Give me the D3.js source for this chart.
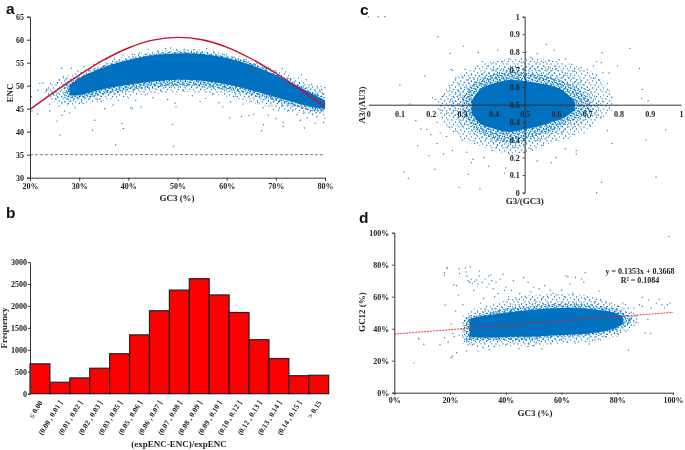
<!DOCTYPE html>
<html><head><meta charset="utf-8">
<script src="https://cdnjs.cloudflare.com/ajax/libs/d3/7.8.5/d3.min.js"></script>
<style>
html,body{margin:0;padding:0;background:#fff}
svg{filter:blur(0.35px)}
text{font-family:"Liberation Serif",serif;font-weight:bold;fill:#222}
.letter{font-family:"Liberation Sans",sans-serif;font-size:15.5px;fill:#111}
</style></head><body><svg id="c" width="685" height="450"></svg>
<script>
// ---------- panel a
const aTicksX=[20,30,40,50,60,70,80];
const aTicksY=[30,35,40,45,50,55,60,65];
const aCurveX=[20,25,30,35,40,45,50,55,60,65,70,75,80];
const aCurveY=[44.85,48.65,52.3,55.6,58.2,59.9,60.5,59.98,58.4,55.86,52.7,49.15,45.45];
const aRefLine=35;
const aFringeX=[23,26,30,35,40,45,50,55,60,65,70,75,78,80];
const aFringeTop=[49,51.5,53,55,56.6,57.4,57.9,57.8,57,55.6,53.6,51.2,50,49];
const aFringeBot=[48,46,45.8,46.8,47.6,48.2,48.6,48.4,47.6,46.4,45,44,43.5,43.6];
const aOuterX=[25,27,30,35,40,45,50,55,60,65,70,75,78,80];
const aOuterTop=[48.8,51,52.4,54.6,56.1,57.1,57.6,57.5,56.6,55.1,53,50.5,49,47.8];
const aOuterBot=[47.8,46.6,46.8,47.7,48.6,49.3,49.6,49.4,48.6,47.5,46,44.9,44,44.2];
const aMidX=[27,30,35,40,45,50,55,60,65,70,75,78,80];
const aMidTop=[50.6,51.9,54.3,55.8,56.9,57.3,57.2,56.3,54.9,52.7,50,48.4,47.3];
const aMidBot=[47.2,47.2,48.1,49,49.6,50,49.8,49.1,48,46.6,45.2,44.5,44.6];
const aCoreX=[28,30,35,40,45,50,55,60,65,70,75,78,80];
const aCoreTop=[50,51.6,54,55.6,56.6,57,56.9,56,54.5,52.3,49.6,47.9,46.8];
const aCoreBot=[47.9,48,49.3,50.2,50.9,51.3,51.1,50.3,49,47.5,46,45.2,45];
const aPoints=[[37.4,37.1],[49.2,36.8],[49,41.6],[39,40.7],[38.7,41.8],[32.7,40.3],[33.2,42.5],[26.1,39.3],[25.5,42.3],[67.1,40.2],[67.5,41.5],[71.5,41.2],[71.5,42],[75.8,40.8],[60.6,43],[78,41.8],[79.7,42],[80,43],[70,42.8],[68.5,43.6],[63,43.3],[64.5,43.5],[65.5,43.8],[75,42.5],[42.6,45.4],[40.8,45],[40.5,45.2],[49.7,45.4],[20.4,44.5],[21.5,43.9],[24,44.5],[28,44.1],[27,44.5],[26.5,43.6],[24,46],[20.3,47.6],[21.6,49],[22,50.5],[22.6,50.6],[23.4,48.9],[23.7,49.4],[24.2,50.5],[24.8,48.2],[25.2,47.1],[25.6,50.6],[26,51.3],[26.4,53.8],[28.4,53.8],[26.8,52],[27.3,51.4],[27.7,46],[26.5,46.4],[25.9,45.6],[28.1,46.6],[29.2,45.2],[29.8,53.2],[30.4,52.8],[31,54.2],[31.9,53.4],[33,54.6],[34,55.2],[35.6,55.8],[37.2,56],[38.9,56.7],[40.8,56.8],[42.3,57.1],[44,57.9],[46,57.5],[47.6,58.1],[48.6,58.2],[49.8,57.9],[51.5,57.9],[53.3,57.8],[55.9,58.1],[57.5,57.1],[59.5,56.7],[61.5,56.2],[63.5,55.7],[66,54.8],[68,53.9],[69.7,53.3],[71.3,53.7],[72,53],[73,51.5],[74.6,51.7],[75.2,52.4],[76.2,51.3],[77.3,50.3],[78.4,49.9],[79.2,49.8],[80,49.6],[79.5,48.3],[78.9,49],[30.6,46.3],[32,47],[33.7,47],[34.5,46.6],[35.2,45],[36.9,45.8],[38,46.8],[40,47.3],[41.5,46.8],[43.5,48],[45,47.4],[46.6,48.9],[48,47],[49.5,46.2],[51.2,49],[53,47.8],[54.6,46.6],[55.7,47.2],[57.1,48.2],[58.4,46.3],[59.2,45.4],[60.8,46.5],[61.9,47.7],[63.3,46],[64.7,46.6],[66.3,46.3],[67.4,45.2],[68.6,45.6],[69.5,44.8],[70.6,44.6],[71.2,45.6],[72.4,44.5],[73.5,44.9],[74.3,43.7],[75.6,44],[76.4,43],[77.4,43.9],[78.3,43.2],[79.2,44.4],[79.8,44.9],[80,46]];
// ---------- panel b
const bLabels=["≤ 0.00","(0.00 , 0.01 ]","(0.01 , 0.02 ]","(0.02 , 0.03 ]","(0.03 , 0.05 ]","(0.05 , 0.06 ]","(0.06 , 0.07 ]","(0.07 , 0.08 ]","(0.08 , 0.09 ]","(0.09 , 0.10 ]","(0.10 , 0.12 ]","(0.12 , 0.13 ]","(0.13 , 0.14 ]","(0.14 , 0.15 ]","> 0.15"];
const bValues=[680,260,360,580,910,1340,1890,2360,2620,2250,1850,1230,800,410,420];
const bTicksY=[0,500,1000,1500,2000,2500,3000];
// ---------- panel c
const cTicks=[0,0.1,0.2,0.3,0.4,0.5,0.6,0.7,0.8,0.9,1];
const cFringeX=[0.22,0.26,0.3,0.35,0.4,0.45,0.5,0.55,0.6,0.65,0.7,0.74,0.78];
const cFringeTop=[0.52,0.62,0.68,0.72,0.75,0.76,0.77,0.76,0.75,0.73,0.7,0.66,0.54];
const cFringeBot=[0.46,0.36,0.3,0.27,0.24,0.22,0.22,0.26,0.29,0.32,0.36,0.41,0.47];
const cOuterX=[0.26,0.3,0.35,0.4,0.45,0.5,0.55,0.6,0.65,0.7,0.74];
const cOuterTop=[0.53,0.62,0.67,0.7,0.72,0.72,0.72,0.71,0.67,0.6,0.52];
const cOuterBot=[0.46,0.38,0.32,0.28,0.25,0.27,0.3,0.33,0.36,0.41,0.47];
const cMidX=[0.3,0.33,0.37,0.41,0.46,0.5,0.55,0.6,0.64,0.68,0.71];
const cMidTop=[0.55,0.61,0.65,0.68,0.69,0.68,0.67,0.65,0.62,0.58,0.52];
const cMidBot=[0.45,0.38,0.33,0.3,0.28,0.3,0.33,0.36,0.4,0.43,0.47];
const cCoreX=[0.33,0.36,0.4,0.45,0.5,0.55,0.6,0.63,0.66];
const cCoreTop=[0.52,0.59,0.62,0.64,0.635,0.62,0.6,0.57,0.52];
const cCoreBot=[0.45,0.39,0.365,0.345,0.36,0.38,0.41,0.43,0.47];
const cPoints=[[0,1],[0.032,1],[0.053,1],[0.222,0.886],[0.304,0.833],[0.261,0.792],[0.352,0.797],[0.414,0.81],[0.57,0.843],[0.595,0.81],[0.837,0.82],[0.748,0.795],[0.101,0.612],[0.181,0.663],[0.797,0.72],[0.867,0.706],[0.877,0.587],[0.874,0.536],[0.895,0.523],[0.133,0.504],[0.152,0.41],[0.168,0.362],[0.187,0.36],[0.158,0.267],[0.194,0.21],[0.115,0.117],[0.128,0.081],[0.213,0.133],[0.29,0.03],[0.357,0.023],[0.73,0],[0.746,0.059],[0.92,0.089],[0.888,0.3],[0.951,0.356],[0.78,0.28],[0.765,0.352],[0.215,0.53],[0.205,0.54],[0.24,0.55],[0.26,0.58],[0.265,0.7],[0.27,0.695],[0.29,0.62],[0.3,0.66],[0.31,0.7],[0.33,0.67],[0.35,0.72],[0.365,0.745],[0.38,0.72],[0.4,0.74],[0.43,0.745],[0.45,0.76],[0.47,0.72],[0.49,0.74],[0.505,0.8],[0.52,0.77],[0.54,0.79],[0.56,0.74],[0.58,0.75],[0.61,0.755],[0.63,0.76],[0.65,0.73],[0.68,0.71],[0.7,0.7],[0.72,0.72],[0.73,0.745],[0.745,0.74],[0.75,0.68],[0.77,0.68],[0.765,0.62],[0.74,0.64],[0.72,0.65],[0.77,0.58],[0.78,0.54],[0.75,0.52],[0.735,0.5],[0.71,0.47],[0.73,0.44],[0.745,0.43],[0.71,0.38],[0.69,0.34],[0.66,0.33],[0.64,0.31],[0.63,0.25],[0.665,0.24],[0.665,0.22],[0.6,0.2],[0.585,0.17],[0.56,0.27],[0.54,0.18],[0.52,0.25],[0.5,0.23],[0.48,0.2],[0.45,0.22],[0.44,0.14],[0.435,0.11],[0.385,0.15],[0.37,0.2],[0.335,0.19],[0.33,0.17],[0.315,0.23],[0.32,0.105],[0.34,0.28],[0.3,0.3],[0.27,0.24],[0.24,0.22],[0.22,0.28],[0.23,0.34],[0.25,0.32],[0.2,0.33],[0.22,0.4],[0.26,0.37],[0.28,0.35],[0.3,0.38],[0.29,0.43],[0.25,0.45],[0.23,0.47],[0.27,0.52],[0.26,0.61],[0.28,0.65],[0.32,0.64],[0.345,0.33],[0.36,0.29],[0.395,0.24],[0.41,0.26],[0.47,0.26],[0.55,0.3],[0.6,0.3],[0.62,0.34],[0.68,0.4],[0.7,0.58],[0.68,0.64],[0.66,0.69],[0.6,0.72],[0.54,0.74],[0.4,0.7],[0.34,0.63]];
// ---------- panel d
const dTicks=[0,20,40,60,80,100];
const dTrendX=[0,100];
const dTrendY=[36.68,50.21];
const dEquation="y = 0.1353x + 0.3668";
const dRSquared="R² = 0.1084";
const dFringeX=[24,28,32,38,44,50,56,62,68,74,80,84,88];
const dFringeTop=[47,52,54,57,60,61,62,62,61,59,55,52,47];
const dFringeBot=[31,29,28.5,29,29,29,30,31,31,33,35,39,44];
const dOuterX=[25,30,36,42,48,54,60,66,72,78,82,86];
const dOuterTop=[47,50.5,53,55,56,56.5,57,57,56,54,52,47];
const dOuterBot=[31.5,31,31.5,31,30.5,32,33,33.5,34,36,39,44];
const dMidX=[25.5,30,36,42,48,54,60,66,72,78,82,85];
const dMidTop=[47,48.5,51,53,54,55,55.5,55.5,54.5,53,50.5,47];
const dMidBot=[33,33,33,33,33,34,35,35.5,36.5,38,41,44];
const dCoreX=[27,30,36,42,48,54,60,66,72,78,82];
const dCoreTop=[46,47.5,49,50.5,51.5,52.5,53,53,52,50.5,48];
const dCoreBot=[35,34.5,34.5,35,35,35.5,36,36.5,37.5,39.5,43];
const dPoints=[[7,18.5],[10.6,30.3],[8.7,33.9],[8.8,33.6],[16.4,30],[18,34.3],[18,73.5],[18,75],[18.8,77.5],[19,78.3],[18.2,54.8],[19.3,31.5],[20.4,43],[20.5,22],[20.9,23],[21,37],[21.3,67.5],[21.5,35],[22,51],[22.3,67],[22.4,25],[23,61],[23.2,36],[23.3,77.5],[23.4,74.5],[24.6,55],[25,38],[25.5,78],[25.8,75.5],[25.9,26],[26,73],[26.5,70],[27,69],[27.2,78.6],[27.6,71],[28,68.5],[28.5,64],[28.8,69.5],[29.5,70.5],[30,68],[30.5,73],[30.6,76],[31,56],[31.5,69],[32,59],[32.6,71],[33.2,66],[33.8,73],[34,68],[34.6,73.5],[35,70],[35.5,65],[36,60],[36.5,69],[37.2,62],[38,71],[39,74],[39.5,64],[40,66],[41,60],[42,64],[42.7,70],[44,58],[45,62],[46.4,72],[47,60],[48,69],[49,63],[50,66],[50.5,58],[52,65],[53,59],[54,67],[55,60],[56,64],[57,62],[58,61],[60,64],[61,60],[61.6,73],[62.3,72.5],[63,68],[64,62],[65,72],[66,58],[67.2,71],[68,69],[68.5,75],[68.2,59],[70,58],[72,57],[73.5,63.5],[74,58],[76,56],[78,56],[80,54],[82,56],[83,55],[84,26.7],[84,53],[85,50],[86,53],[87,48],[88,55],[89,59.5],[89,54],[90,37.3],[91,45.8],[91.3,58],[92,37],[92.2,52.8],[94,56],[95,58.3],[96,55],[97,53],[98,55],[98.6,97.7],[99,56],[28,30],[30,26],[32,28],[34,27],[36,29],[40,30],[44.7,27.5],[48,29],[50,29.5],[53,27.5],[56,31],[60,33],[62,31.5],[65,31],[70,30.5],[72,33],[74,33],[76,35],[80,37],[83,38.5],[86,42],[25,42],[24,40],[24.5,36],[26,32],[26.5,30],[27,34],[77,41],[85,46],[87,44]];

const svg=d3.select("#c");
const BLUE="#0070c0";
// speckle textures standing in for the overplotted cloud edges
const defs=svg.append("defs");
function speckle(id,w,h,spots){
 const p=defs.append("pattern").attr("id",id).attr("patternUnits","userSpaceOnUse").attr("width",w).attr("height",h);
 spots.forEach(s=>p.append("circle").attr("cx",s[0]).attr("cy",s[1]).attr("r",0.65).attr("fill",BLUE));
}
speckle("spA",11,7,[[1,1],[4.5,3],[8,0.8],[2.5,5.4],[6.6,5.8],[9.6,3.9]]);
speckle("spB",13,9,[[0.8,2.4],[3.4,0.6],[5.8,3.2],[8.4,1.2],[11.2,3.8],[2.2,6.2],[6.1,7.4],[9.6,6.2],[12.2,7.6],[4.3,4.9]]);
speckle("spC",7,5,[[0.9,0.9],[3.3,0.3],[5.7,1.6],[2.1,2.7],[4.5,3.3],[0.6,4.2],[6.2,4.1]]);

function ticks(g,size){g.selectAll("text").style("font-size",size+"px");g.selectAll("line,path").attr("stroke","#333").attr("stroke-width",1);}
function label(x,y,t,rot,fs){const e=svg.append("text").attr("text-anchor","middle").style("font-size",(fs||9)+"px").text(t);
 if(rot)e.attr("transform",`translate(${x},${y}) rotate(${rot})`);else e.attr("x",x).attr("y",y);return e;}
function band(x,y,xs,top,bot,fill){
 const area=d3.area().x((d,i)=>x(xs[i])).y0((d,i)=>y(bot[i])).y1((d,i)=>y(top[i])).curve(d3.curveCatmullRom);
 svg.append("path").attr("d",area(xs)).attr("fill",fill);
}
function cloud(x,y,f,ft,fb,o,ot,ob,m,mt,mb,c,ct,cb){
 band(x,y,f,ft,fb,"url(#spA)");
 band(x,y,o,ot,ob,"url(#spB)");
 band(x,y,m,mt,mb,"url(#spC)");
 band(x,y,m,mt,mb,"url(#spA)");
 band(x,y,c,ct,cb,BLUE);
}
function dots(x,y,pts,r){svg.append("g").selectAll("circle").data(pts).join("circle").attr("cx",d=>x(d[0])).attr("cy",d=>y(d[1])).attr("r",r||0.7).attr("fill",BLUE).attr("opacity",0.85);}
const pct=d=>d+"%";

// a
{
 const x=d3.scaleLinear([20,80],[30,325]),y=d3.scaleLinear([30,65],[177.7,16.7]);
 cloud(x,y,aFringeX,aFringeTop,aFringeBot,aOuterX,aOuterTop,aOuterBot,aMidX,aMidTop,aMidBot,aCoreX,aCoreTop,aCoreBot);
 dots(x,y,aPoints);
 svg.append("path").attr("d",d3.line().x((d,i)=>x(aCurveX[i])).y(d=>y(d)).curve(d3.curveCatmullRom)(aCurveY)).attr("fill","none").attr("stroke","#c8102e").attr("stroke-width",1.4);
 svg.append("line").attr("x1",x(20)).attr("x2",x(80)).attr("y1",y(aRefLine)).attr("y2",y(aRefLine)).attr("stroke","#777").attr("stroke-width",1).attr("stroke-dasharray","3,2");
 svg.append("g").attr("transform","translate(0,177.7)").call(d3.axisBottom(x).tickValues(aTicksX).tickFormat(pct).tickSize(3)).call(ticks,8);
 svg.append("g").attr("transform","translate(30,0)").call(d3.axisLeft(y).tickValues(aTicksY).tickSize(3)).call(ticks,8);
 label(177,201,"GC3 (%)");
 label(12.5,93,"ENC",-90);
 svg.append("text").attr("class","letter").attr("x",6).attr("y",14).text("a");
}
// b
{
 const x=d3.scaleBand(bLabels,[30,328.7]).padding(0),y=d3.scaleLinear([0,3000],[393.7,262]);
 svg.append("g").selectAll("rect").data(bValues).join("rect").attr("x",(d,i)=>x(bLabels[i])).attr("width",x.bandwidth()).attr("y",d=>y(d)).attr("height",d=>y(0)-y(d)).attr("fill","#ff0000").attr("stroke","#222").attr("stroke-width",1.2);
 svg.append("g").attr("transform","translate(30,0)").call(d3.axisLeft(y).tickValues(bTicksY).tickFormat(d3.format("d")).tickSize(2).tickPadding(1)).call(ticks,8);
 const g=svg.append("g").attr("transform","translate(0,393.7)").call(d3.axisBottom(x).tickSize(0)).call(ticks,7.5);
 g.select("path").remove();
 g.selectAll("text").attr("text-anchor","end").attr("dy",0).attr("y",0).attr("transform","translate(3,9) rotate(-58)");
 label(179,447,"(expENC-ENC)/expENC");
 label(7,328,"Frequency",-90);
 svg.append("text").attr("class","letter").attr("x",6).attr("y",218).text("b");
}
// c
{
 const x=d3.scaleLinear([0,1],[368.3,681]),y=d3.scaleLinear([0,1],[192.7,16.7]);
 cloud(x,y,cFringeX,cFringeTop,cFringeBot,cOuterX,cOuterTop,cOuterBot,cMidX,cMidTop,cMidBot,cCoreX,cCoreTop,cCoreBot);
 dots(x,y,cPoints);
 const gx=svg.append("g").attr("transform",`translate(0,${y(0.5)})`).call(d3.axisBottom(x).tickValues(cTicks).tickFormat(d=>d).tickSize(0)).call(ticks,8);
 gx.selectAll("text").attr("dy",0).attr("y",12);
 svg.append("g").attr("transform",`translate(${x(0.5)},0)`).call(d3.axisLeft(y).tickValues(cTicks).tickFormat(d=>d).tickSize(2)).call(ticks,8);
 label(x(0.5),204,"G3/(GC3)");
 label(365,105,"A3/(AU3)",-90);
 svg.append("text").attr("class","letter").attr("x",360).attr("y",15).text("c");
}
// d
{
 const x=d3.scaleLinear([0,100],[394.3,673]),y=d3.scaleLinear([0,100],[392.7,232.7]);
 cloud(x,y,dFringeX,dFringeTop,dFringeBot,dOuterX,dOuterTop,dOuterBot,dMidX,dMidTop,dMidBot,dCoreX,dCoreTop,dCoreBot);
 dots(x,y,dPoints);
 svg.append("line").attr("x1",x(dTrendX[0])).attr("x2",x(dTrendX[1])).attr("y1",y(dTrendY[0])).attr("y2",y(dTrendY[1])).attr("stroke","#e8262a").attr("stroke-width",0.9).attr("stroke-dasharray","2,1");
 svg.append("g").attr("transform","translate(0,392.7)").call(d3.axisBottom(x).tickValues(dTicks).tickFormat(pct).tickSize(2)).call(ticks,8);
 svg.append("g").attr("transform","translate(394.3,0)").call(d3.axisLeft(y).tickValues(dTicks).tickFormat(pct).tickSize(2)).call(ticks,8);
 label(535,416,"GC3 (%)");
 label(365,312,"GC12 (%)",-90);
 label(640,274,dEquation,0,8);
 label(640,283,dRSquared,0,8);
 svg.append("text").attr("class","letter").attr("x",359).attr("y",223).text("d");
}
</script></body></html>
